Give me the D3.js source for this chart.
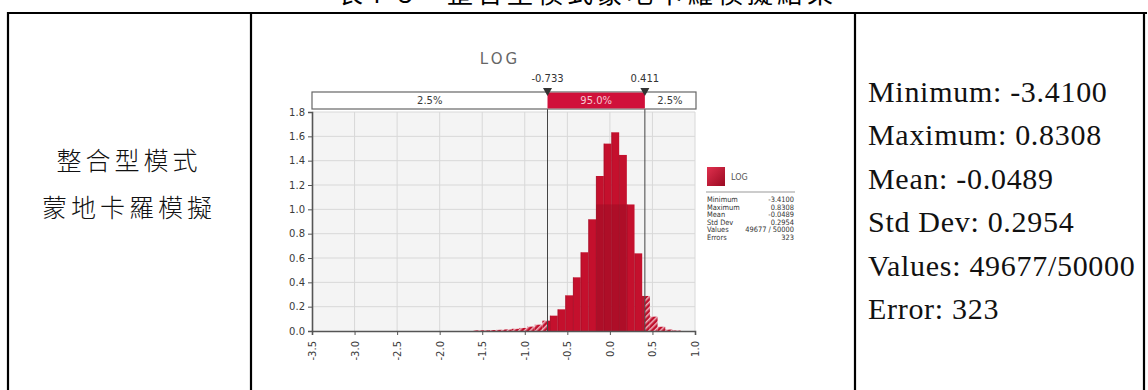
<!DOCTYPE html>
<html><head><meta charset="utf-8">
<script src="https://cdn.jsdelivr.net/npm/d3@7/dist/d3.min.js"></script>
<style>body{margin:0;background:#fff}svg{display:block}</style>
</head><body>
<script>
// ---- data ----
const binStart = -3.41;
const binEnd = 0.8308;
const densities = [0,0,0,0,0,0,0,0,0,0,0,0,0,0,0,0,0,0,0,0,
  0.005,0.006,0.008,0.010,0.013,0.018,0.025,0.036,0.052,0.085,
  0.126,0.178,0.293,0.441,0.647,0.918,1.274,1.540,1.633,1.447,1.040,0.638,
  0.288,0.118,0.035,0.012,0.004];
const shadeLevel = 1.04;
const xTicks = [-3.5,-3.0,-2.5,-2.0,-1.5,-1.0,-0.5,0.0,0.5,1.0];
const yTicks = [0,0.2,0.4,0.6,0.8,1.0,1.2,1.4,1.6,1.8];
const delimiters = [-0.733, 0.411];
const pctLabels = ["2.5%","95.0%","2.5%"];
const chartTitle = "LOG";
const legendNames = ["Minimum","Maximum","Mean","Std Dev","Values","Errors"];
const legendValues = ["-3.4100","0.8308","-0.0489","0.2954","49677 / 50000","323"];
const rightLines = ["Minimum: -3.4100","Maximum: 0.8308","Mean: -0.0489","Std Dev: 0.2954","Values: 49677/50000","Error: 323"];
const leftLines = ["整合型模式","蒙地卡羅模擬"];
const captionText = "表4-3　整合型模式蒙地卡羅模擬結果";

// ---- drawing ----
const W=1148,H=390;
const svg=d3.select("body").append("svg").attr("width",W).attr("height",H);
svg.append("rect").attr("width",W).attr("height",H).attr("fill","#fff");

// caption (cut off at top, as in the reference)
svg.append("text").attr("x",587).attr("y",3).attr("text-anchor","middle")
  .attr("font-family","Noto Sans CJK TC").attr("font-size",26).attr("letter-spacing",4)
  .attr("fill","#000").text(captionText);

// table borders
const tb = svg.append("g").attr("stroke","#000").attr("stroke-width",2.2);
tb.append("line").attr("x1",7).attr("x2",1147).attr("y1",13).attr("y2",13);
[8,251,855,1144].forEach(xx=>tb.append("line").attr("x1",xx).attr("x2",xx).attr("y1",12).attr("y2",H));

// left column
leftLines.forEach((t,i)=>svg.append("text").attr("x",129).attr("y",170+i*47)
  .attr("text-anchor","middle").attr("font-family","Noto Sans CJK TC").attr("font-weight",300)
  .attr("font-size",25).attr("letter-spacing",4).attr("fill","#111").text(t));

// right column
rightLines.forEach((t,i)=>svg.append("text").attr("x",868).attr("y",102+i*43.4)
  .attr("font-family","Liberation Serif").attr("font-size",30).attr("letter-spacing",0.7)
  .attr("fill","#111").text(t));

// chart
const x=d3.scaleLinear().domain([-3.5,1.0]).range([312,695]);
const y=d3.scaleLinear().domain([0,1.8]).range([331,112]);
const fmt=d=>d.toFixed(1);

const defs=svg.append("defs");
const pat=defs.append("pattern").attr("id","hatch").attr("patternUnits","userSpaceOnUse")
  .attr("width",4).attr("height",4).attr("patternTransform","rotate(45)");
pat.append("rect").attr("width",4).attr("height",4).attr("fill","#c0102c");
pat.append("rect").attr("width",1.5).attr("height",4).attr("fill","#f0b4c0");
const lg=defs.append("linearGradient").attr("id","lg").attr("x1",0).attr("y1",0).attr("x2",1).attr("y2",1);
lg.append("stop").attr("offset","0").attr("stop-color","#e0304e");
lg.append("stop").attr("offset","1").attr("stop-color","#9a0a22");

// plot background
svg.append("rect").attr("x",x(-3.5)).attr("y",y(1.8)).attr("width",x(1.0)-x(-3.5)).attr("height",y(0)-y(1.8)).attr("fill","#f4f4f4");
// grid
svg.append("g").selectAll("line").data(xTicks.slice(1)).join("line")
  .attr("x1",d=>x(d)).attr("x2",d=>x(d)).attr("y1",y(1.8)).attr("y2",y(0)).attr("stroke","#d8d8d8");
svg.append("g").selectAll("line").data(yTicks.slice(1)).join("line")
  .attr("x1",x(-3.5)).attr("x2",x(1.0)).attr("y1",d=>y(d)).attr("y2",d=>y(d)).attr("stroke","#d8d8d8");

// bars split by delimiters
const bw=(binEnd-binStart)/densities.length;
const segs=[];
densities.forEach((v,k)=>{
  if(v<=0) return;
  const a=binStart+k*bw, b=a+bw;
  const cuts=[a,...delimiters.filter(c=>c>a&&c<b),b];
  for(let i=0;i<cuts.length-1;i++){
    const m=(cuts[i]+cuts[i+1])/2;
    segs.push({x0:cuts[i],x1:cuts[i+1],v,inside:m>delimiters[0]&&m<delimiters[1]});
  }
});
svg.append("g").selectAll("rect").data(segs).join("rect")
  .attr("x",d=>x(d.x0)).attr("width",d=>x(d.x1)-x(d.x0))
  .attr("y",d=>y(d.v)).attr("height",d=>y(0)-y(d.v))
  .attr("fill",d=>d.inside?"#c4102d":"url(#hatch)");
// darker overlap shading
svg.append("g").selectAll("rect").data(segs.filter(d=>d.inside&&d.v>shadeLevel)).join("rect")
  .attr("x",d=>x(d.x0)).attr("width",d=>x(d.x1)-x(d.x0))
  .attr("y",y(shadeLevel)).attr("height",y(0)-y(shadeLevel)).attr("fill","#980b23").attr("opacity",0.5);
// bar edges
svg.append("g").selectAll("line").data(segs.filter(d=>d.inside)).join("line")
  .attr("x1",d=>x(d.x0)+0.25).attr("x2",d=>x(d.x0)+0.25).attr("y1",d=>y(d.v)).attr("y2",y(0))
  .attr("stroke","#9a0b24").attr("stroke-width",0.6);

// axes
const ax=svg.append("g").attr("transform",`translate(0,${y(0)})`)
  .call(d3.axisBottom(x).tickValues(xTicks).tickFormat(fmt).tickSize(4));
ax.select(".domain").attr("stroke","#555").attr("stroke-width",1.6);
ax.selectAll(".tick line").attr("stroke","#555");
ax.selectAll(".tick text").attr("transform","rotate(-90)").attr("text-anchor","end")
  .attr("x",-10).attr("y",0).attr("dy","0.35em")
  .attr("font-family","DejaVu Sans").attr("font-size",10).attr("fill","#3a3a3a");
const ay=svg.append("g").attr("transform",`translate(${x(-3.5)},0)`)
  .call(d3.axisLeft(y).tickValues(yTicks).tickFormat(fmt).tickSize(4));
ay.select(".domain").attr("stroke","#555").attr("stroke-width",1.6);
ay.selectAll(".tick line").attr("stroke","#555");
ay.selectAll(".tick text").attr("font-family","DejaVu Sans").attr("font-size",10).attr("fill","#3a3a3a").attr("x",-7);

// delimiter lines
svg.append("g").selectAll("line").data(delimiters).join("line")
  .attr("x1",d=>x(d)).attr("x2",d=>x(d)).attr("y1",92).attr("y2",y(0))
  .attr("stroke","#444").attr("stroke-width",1);

// top percent bar
const barY=92,barH=17;
svg.append("rect").attr("x",x(-3.5)).attr("y",barY).attr("width",x(1.0)-x(-3.5)+1).attr("height",barH)
  .attr("fill","#fff").attr("stroke","#666").attr("stroke-width",1.2);
svg.append("rect").attr("x",x(delimiters[0])).attr("y",barY+0.6).attr("width",x(delimiters[1])-x(delimiters[0])).attr("height",barH-1.2)
  .attr("fill","#d0103a");
const segX=[[-3.5,delimiters[0]],[delimiters[0],delimiters[1]],[delimiters[1],1.0]];
pctLabels.forEach((t,i)=>svg.append("text").attr("x",(x(segX[i][0])+x(segX[i][1]))/2).attr("y",barY+barH/2)
  .attr("dy","0.35em").attr("text-anchor","middle").attr("font-family","DejaVu Sans").attr("font-size",10)
  .attr("fill",i===1?"#f6c9d2":"#3a3a3a").text(t));
// markers
svg.append("g").selectAll("path").data(delimiters).join("path")
  .attr("d",d=>`M${x(d)-4.5},${barY-4}L${x(d)+4.5},${barY-4}L${x(d)},${barY+4}Z`).attr("fill","#333");
svg.append("g").selectAll("text").data(delimiters).join("text")
  .attr("x",d=>x(d)).attr("y",82).attr("text-anchor","middle").attr("font-family","DejaVu Sans")
  .attr("font-size",10).attr("fill","#333").text(d=>d.toFixed(3));
// title
svg.append("text").attr("x",500).attr("y",64).attr("text-anchor","middle").attr("font-family","DejaVu Sans")
  .attr("font-size",15).attr("letter-spacing",3).attr("fill","#666").text(chartTitle);

// legend
svg.append("rect").attr("x",707).attr("y",167).attr("width",18).attr("height",19).attr("fill","url(#lg)");
svg.append("text").attr("x",731).attr("y",180).attr("font-family","DejaVu Sans").attr("font-size",8).attr("fill","#555").text(chartTitle);
svg.append("line").attr("x1",706).attr("x2",795).attr("y1",192).attr("y2",192).attr("stroke","#999");
legendNames.forEach((n,i)=>{
  svg.append("text").attr("x",707).attr("y",202+i*7.6).attr("font-family","DejaVu Sans Condensed").attr("font-size",7.4).attr("fill","#333").text(n);
  svg.append("text").attr("x",794).attr("y",202+i*7.6).attr("text-anchor","end").attr("font-family","DejaVu Sans Condensed").attr("font-size",7.4).attr("fill","#333").text(legendValues[i]);
});
</script>
</body></html>
